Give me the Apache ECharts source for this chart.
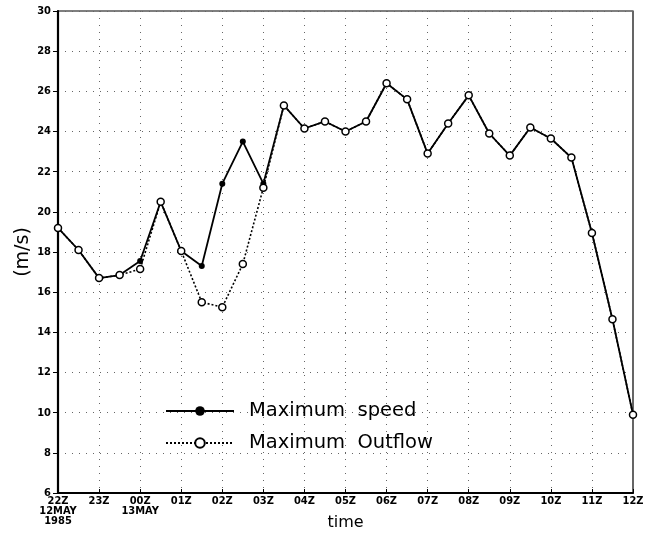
<!DOCTYPE html>
<html>
<head>
<meta charset="utf-8">
<script src="https://cdn.jsdelivr.net/npm/echarts@6/dist/echarts.min.js"></script>
<style>html,body{margin:0;padding:0;background:#fff}#c{width:652px;height:537px}</style>
</head>
<body>
<div id="c"></div>
<script>
// Half-hourly times from 22Z 12 May 1985 to 12Z 13 May
var times = ['22Z','2230','23Z','2330','00Z','0030','01Z','0130','02Z','0230','03Z','0330','04Z','0430','05Z','0530','06Z','0630','07Z','0730','08Z','0830','09Z','0930','10Z','1030','11Z','1130','12Z'];
var tickLabels = {'22Z':'22Z\n12MAY\n1985','00Z':'00Z\n13MAY'};
var maxSpeed = [19.2,18.1,16.7,16.85,17.55,20.5,18.05,17.3,21.4,23.5,21.4,25.3,24.15,24.5,24.0,24.5,26.4,25.6,22.9,24.4,25.8,23.9,22.8,24.2,23.65,22.7,18.95,14.65,9.9];
var maxOutflow = [19.2,18.1,16.7,16.85,17.15,20.5,18.05,15.5,15.25,17.4,21.2,25.3,24.15,24.5,24.0,24.5,26.4,25.6,22.9,24.4,25.8,23.9,22.8,24.2,23.65,22.7,18.95,14.65,9.9];
var yMin = 6, yMax = 30, yStep = 2;

var chart = echarts.init(document.getElementById('c'), null, {renderer:'canvas'});
var lblFont = {fontFamily:'DejaVu Sans Condensed, DejaVu Sans', fontSize:11, color:'#000', fontWeight:'bold'};
chart.setOption({
  animation:false,
  backgroundColor:'#fff',
  grid:{left:58,right:19,top:11,bottom:44,show:true,borderColor:'#000',borderWidth:1.2,containLabel:false,outerBoundsMode:'none'},
  legend:{
    orient:'vertical', left:160, top:396, itemWidth:68, itemHeight:12, itemGap:12,
    data:['Maximum speed','Maximum Outflow'],
    formatter:function(n){return n.replace(' ','  ');},
    textStyle:{fontFamily:'DejaVu Sans',fontSize:19.5,color:'#000',padding:[0,0,0,10]}
  },
  xAxis:{
    type:'category', data:times, boundaryGap:false,
    name:'time', nameLocation:'middle', nameGap:22, nameMoveOverlap:false,
    nameTextStyle:{fontFamily:'DejaVu Sans',fontSize:16,color:'#000'},
    axisLine:{lineStyle:{color:'#000',width:2.2}},
    axisTick:{show:true,inside:true,length:4,interval:1,lineStyle:{color:'#000'}},
    axisLabel:Object.assign({interval:1,margin:3,lineHeight:10,formatter:function(v){return tickLabels[v]||v;}},lblFont),
    splitLine:{show:true,interval:1,lineStyle:{color:'#666',type:[1,6],width:1}}
  },
  yAxis:{
    type:'value', min:yMin, max:yMax, interval:yStep,
    name:'(m/s)', nameLocation:'middle', nameGap:25, nameRotate:90, nameMoveOverlap:false,
    nameTextStyle:{fontFamily:'DejaVu Sans',fontSize:19,color:'#000'},
    axisLine:{show:true,lineStyle:{color:'#000',width:2.2}},
    axisTick:{show:true,length:5,lineStyle:{color:'#000'}},
    axisLabel:Object.assign({margin:7},lblFont),
    splitLine:{show:true,lineStyle:{color:'#666',type:[1,6],width:1}}
  },
  series:[
    {name:'Maximum speed',type:'line',data:maxSpeed,z:2,
     symbol:'circle',symbolSize:6,showSymbol:true,
     lineStyle:{color:'#000',width:1.8},itemStyle:{color:'#000'}},
    {name:'Maximum Outflow',type:'line',data:maxOutflow,z:3,
     symbol:'circle',symbolSize:7,showSymbol:true,
     lineStyle:{color:'#000',width:1.6,type:[2,2]},
     itemStyle:{color:'#fff',borderColor:'#000',borderWidth:1.5}}
  ]
});
</script>
</body>
</html>
